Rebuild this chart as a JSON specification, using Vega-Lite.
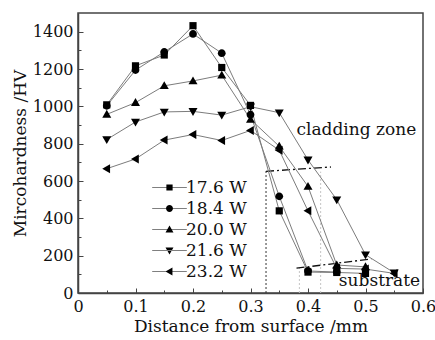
{
  "$schema": "https://vega.github.io/schema/vega-lite/v6.json",
  "width": 345,
  "height": 280,
  "autosize": {"type": "none"},
  "padding": {"left": 78, "top": 13, "right": 12, "bottom": 47},
  "background": "white",
  "config": {
    "font": "DejaVu Serif",
    "view": {"stroke": "#444", "strokeWidth": 1.5},
    "axis": {
      "labelFont": "DejaVu Serif", "labelFontSize": 16, "labelColor": "#111", "labelOverlap": false,
      "titleFont": "DejaVu Serif", "titleFontSize": 17, "titleFontWeight": "normal", "titleColor": "#111",
      "grid": false, "domainColor": "#444", "domainWidth": 1.5, "tickColor": "#444", "tickWidth": 1
    }
  },
  "datasets": {
    "hv": [
      {"series": "17.6 W", "d": 0.05, "hv": 1008}, {"series": "17.6 W", "d": 0.1, "hv": 1217}, {"series": "17.6 W", "d": 0.15, "hv": 1275}, {"series": "17.6 W", "d": 0.2, "hv": 1432}, {"series": "17.6 W", "d": 0.25, "hv": 1208}, {"series": "17.6 W", "d": 0.3, "hv": 1005}, {"series": "17.6 W", "d": 0.35, "hv": 440}, {"series": "17.6 W", "d": 0.4, "hv": 112}, {"series": "17.6 W", "d": 0.45, "hv": 110}, {"series": "17.6 W", "d": 0.5, "hv": 105},
      {"series": "18.4 W", "d": 0.05, "hv": 1003}, {"series": "18.4 W", "d": 0.1, "hv": 1194}, {"series": "18.4 W", "d": 0.15, "hv": 1292}, {"series": "18.4 W", "d": 0.2, "hv": 1388}, {"series": "18.4 W", "d": 0.25, "hv": 1285}, {"series": "18.4 W", "d": 0.3, "hv": 955}, {"series": "18.4 W", "d": 0.35, "hv": 518}, {"series": "18.4 W", "d": 0.4, "hv": 118}, {"series": "18.4 W", "d": 0.45, "hv": 112},
      {"series": "20.0 W", "d": 0.05, "hv": 957}, {"series": "20.0 W", "d": 0.1, "hv": 1020}, {"series": "20.0 W", "d": 0.15, "hv": 1110}, {"series": "20.0 W", "d": 0.2, "hv": 1136}, {"series": "20.0 W", "d": 0.25, "hv": 1167}, {"series": "20.0 W", "d": 0.3, "hv": 930}, {"series": "20.0 W", "d": 0.35, "hv": 786}, {"series": "20.0 W", "d": 0.4, "hv": 571}, {"series": "20.0 W", "d": 0.45, "hv": 150}, {"series": "20.0 W", "d": 0.5, "hv": 140},
      {"series": "21.6 W", "d": 0.05, "hv": 822}, {"series": "21.6 W", "d": 0.1, "hv": 916}, {"series": "21.6 W", "d": 0.15, "hv": 970}, {"series": "21.6 W", "d": 0.2, "hv": 973}, {"series": "21.6 W", "d": 0.25, "hv": 953}, {"series": "21.6 W", "d": 0.3, "hv": 998}, {"series": "21.6 W", "d": 0.35, "hv": 966}, {"series": "21.6 W", "d": 0.4, "hv": 713}, {"series": "21.6 W", "d": 0.45, "hv": 500}, {"series": "21.6 W", "d": 0.5, "hv": 205}, {"series": "21.6 W", "d": 0.55, "hv": 108},
      {"series": "23.2 W", "d": 0.05, "hv": 666}, {"series": "23.2 W", "d": 0.1, "hv": 718}, {"series": "23.2 W", "d": 0.15, "hv": 819}, {"series": "23.2 W", "d": 0.2, "hv": 849}, {"series": "23.2 W", "d": 0.25, "hv": 817}, {"series": "23.2 W", "d": 0.3, "hv": 871}, {"series": "23.2 W", "d": 0.35, "hv": 765}, {"series": "23.2 W", "d": 0.4, "hv": 440}, {"series": "23.2 W", "d": 0.45, "hv": 132}, {"series": "23.2 W", "d": 0.5, "hv": 128}, {"series": "23.2 W", "d": 0.55, "hv": 105}
    ]
  },
  "resolve": {"scale": {"shape": "independent"}, "legend": {"shape": "independent"}, "axis": {"x": "independent", "y": "independent"}},
  "layer": [
    {
      "data": {"values": [{"x": 0.327, "y": 0, "y2": 660}]},
      "mark": {"type": "rule", "color": "#333", "strokeDash": [2, 2], "strokeWidth": 1},
      "encoding": {
        "x": {"field": "x", "type": "quantitative", "scale": {"domain": [0, 0.6], "nice": false, "zero": false},
          "axis": {"orient": "bottom", "values": [0, 0.1, 0.2, 0.3, 0.4, 0.5, 0.6],
            "labelExpr": "datum.value == 0 ? '0' : format(datum.value, '.1f')",
            "labelOverlap": false,
            "tickSize": -5, "labelPadding": 10, "title": "Distance from surface /mm", "titlePadding": 4, "labelFlush": false}},
        "y": {"field": "y", "type": "quantitative", "scale": {"domain": [0, 1500], "nice": false},
          "axis": {"orient": "left", "values": [0, 200, 400, 600, 800, 1000, 1200, 1400],
            "format": "d", "labelOverlap": false,
            "tickSize": -5, "labelPadding": 10, "title": "Mircohardness /HV", "titlePadding": 3}},
        "y2": {"field": "y2"}
      }
    },
    {
      "data": {"values": [{"x": 0.385, "y": 0, "y2": 135}, {"x": 0.422, "y": 0, "y2": 650}]},
      "mark": {"type": "rule", "color": "#c4c4c4", "strokeDash": [2, 2], "strokeWidth": 1},
      "encoding": {
        "x": {"field": "x", "type": "quantitative",
          "axis": {"orient": "bottom", "values": [0.05, 0.15, 0.25, 0.35, 0.45, 0.55], "labels": false, "domain": false, "title": null, "tickSize": -3}},
        "y": {"field": "y", "type": "quantitative",
          "axis": {"orient": "left", "values": [100, 300, 500, 700, 900, 1100, 1300], "labels": false, "domain": false, "title": null, "tickSize": -3}},
        "y2": {"field": "y2"}
      }
    },
    {
      "data": {"values": [{"x": 0.327, "y": 652, "x2": 0.44, "y2": 675}, {"x": 0.38, "y": 133, "x2": 0.51, "y2": 182}]},
      "mark": {"type": "rule", "color": "#111", "strokeDash": [8, 3, 2, 3], "strokeWidth": 1.3},
      "encoding": {
        "x": {"field": "x", "type": "quantitative", "axis": null},
        "x2": {"field": "x2"},
        "y": {"field": "y", "type": "quantitative", "axis": null},
        "y2": {"field": "y2"}
      }
    },
    {
      "data": {"name": "hv"},
      "mark": {"type": "line", "color": "#7c7c7c", "strokeWidth": 1},
      "encoding": {
        "x": {"field": "d", "type": "quantitative", "axis": null},
        "y": {"field": "hv", "type": "quantitative", "axis": null},
        "detail": {"field": "series"},
        "order": {"field": "d"}
      }
    },
    {
      "data": {"name": "hv"},
      "mark": {"type": "point", "filled": true, "color": "black", "opacity": 1, "size": 300, "strokeWidth": 0},
      "encoding": {
        "x": {"field": "d", "type": "quantitative", "axis": null},
        "y": {"field": "hv", "type": "quantitative", "axis": null},
        "shape": {"field": "series", "type": "nominal",
          "scale": {"domain": ["17.6 W", "18.4 W", "20.0 W", "21.6 W", "23.2 W"],
            "range": [
              "M-0.415,-0.415H0.415V0.415H-0.415Z",
              "M0.45,0A0.45,0.45 0 1,1 -0.45,0A0.45,0.45 0 1,1 0.45,0Z",
              "M0,-0.52L0.52,0.38H-0.52Z",
              "M0,0.52L0.52,-0.38H-0.52Z",
              "M-0.52,0L0.38,-0.52V0.52Z"
            ]},
          "legend": null}
      }
    },
    {
      "data": {"name": "hv"},
      "transform": [{"filter": "datum.d > 1"}],
      "mark": {"type": "point", "filled": true, "color": "black", "opacity": 1, "size": 300, "strokeWidth": 0},
      "encoding": {
        "x": {"field": "d", "type": "quantitative", "axis": null},
        "y": {"field": "hv", "type": "quantitative", "axis": null},
        "shape": {"field": "series", "type": "nominal",
          "scale": {"domain": ["17.6 W", "18.4 W", "20.0 W", "21.6 W", "23.2 W"],
            "range": [
              "M-2,-0.04H2V0.04H-2ZM-0.36,-0.36H0.36V0.36H-0.36Z",
              "M-2,-0.04H2V0.04H-2ZM0.4,0A0.4,0.4 0 1,1 -0.4,0A0.4,0.4 0 1,1 0.4,0Z",
              "M-2,-0.04H2V0.04H-2ZM0,-0.46L0.46,0.34H-0.46Z",
              "M-2,-0.04H2V0.04H-2ZM0,0.46L0.46,-0.34H-0.46Z",
              "M-2,-0.04H2V0.04H-2ZM-0.46,0L0.34,-0.46V0.46Z"
            ]},
          "legend": {
            "title": null, "orient": "none", "legendX": 82, "legendY": 165, "padding": 0,
            "symbolSize": 300, "labelOffset": 7, "rowPadding": 3,
            "symbolFillColor": "black", "symbolOpacity": 1,
            "labelFont": "DejaVu Serif", "labelFontSize": 17, "labelColor": "#111"
          }}
      }
    },
    {
      "data": {"values": [{"label": "cladding zone", "x": 0.38, "y": 871}]},
      "mark": {"type": "text", "align": "left", "baseline": "middle", "font": "DejaVu Serif", "fontSize": 17, "color": "#111"},
      "encoding": {
        "x": {"field": "x", "type": "quantitative", "axis": null},
        "y": {"field": "y", "type": "quantitative", "axis": null},
        "text": {"field": "label"}
      }
    },
    {
      "data": {"values": [{"label": "substrate", "x": 0.595, "y": 62}]},
      "mark": {"type": "text", "align": "right", "baseline": "middle", "font": "DejaVu Serif", "fontSize": 17, "color": "#111"},
      "encoding": {
        "x": {"field": "x", "type": "quantitative", "axis": null},
        "y": {"field": "y", "type": "quantitative", "axis": null},
        "text": {"field": "label"}
      }
    }
  ]
}
